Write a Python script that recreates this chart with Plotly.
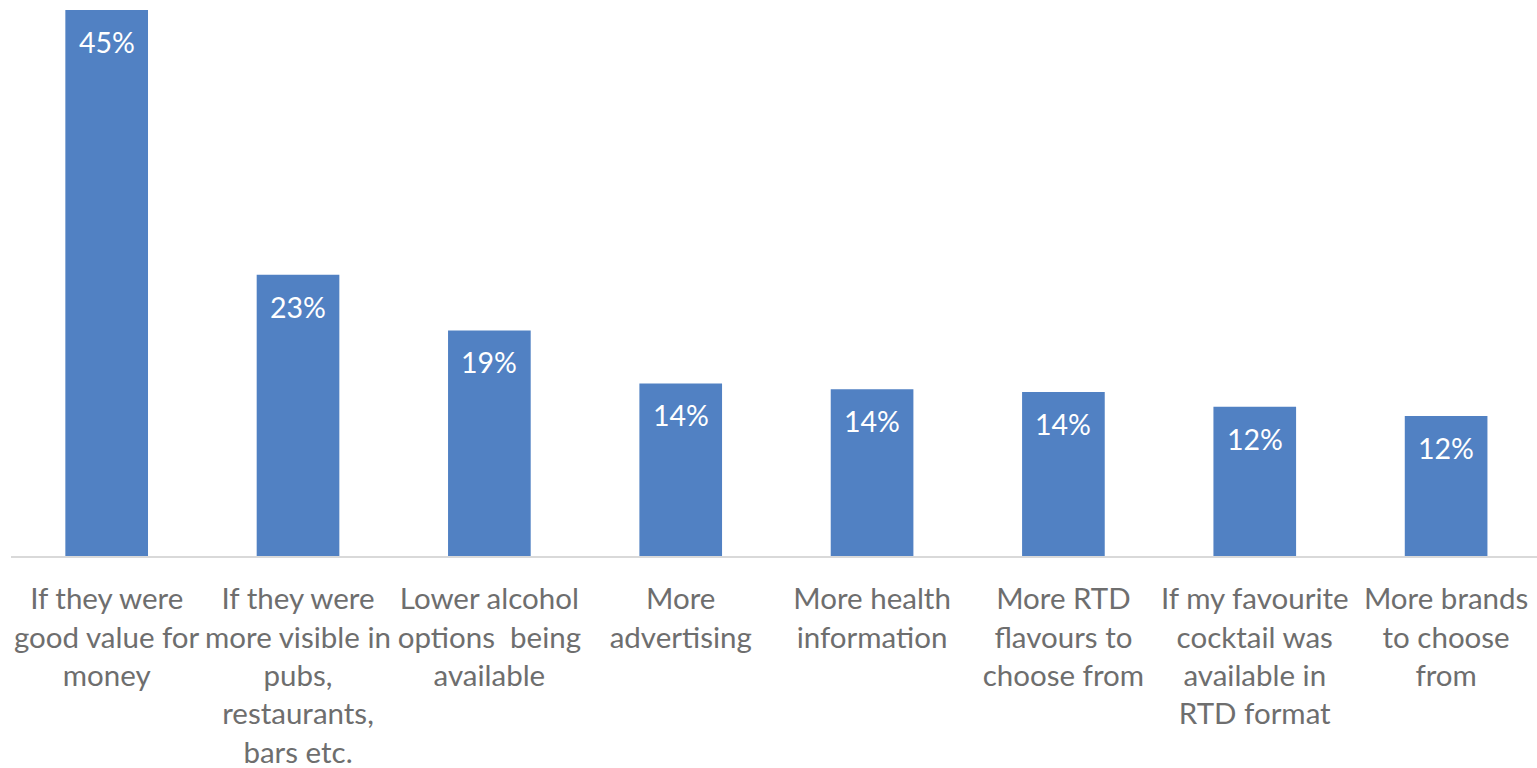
import plotly.graph_objects as go

# Survey results: what would make respondents buy more RTDs
categories = [
    "If they were<br>good value for<br>money",
    "If they were<br>more visible in<br>pubs,<br>restaurants,<br>bars etc.",
    "Lower alcohol<br>options \u00a0being<br>available",
    "More<br>advertising",
    "More health<br>information",
    "More RTD<br>flavours to<br>choose from",
    "If my favourite<br>cocktail was<br>available in<br>RTD format",
    "More brands<br>to choose<br>from",
]
shares = [0.450, 0.2317, 0.1859, 0.1422, 0.1375, 0.1352, 0.1229, 0.1154]

BAR_COLOR = "#5181C3"
TEXT_GRAY = "#6E6E6E"
FONT = "Lato"

x_pos = list(range(len(categories)))

fig = go.Figure(
    go.Bar(
        x=x_pos,
        y=shares,
        marker=dict(color=BAR_COLOR, line=dict(width=0)),
        width=0.432,
        hoverinfo="skip",
    )
)

# Percentage labels just inside the top of each bar
for xi, v in zip(x_pos, shares):
    fig.add_annotation(
        x=xi, y=v, xref="x", yref="y",
        text=f"{v * 100:.0f}%",
        showarrow=False,
        yanchor="top",
        yshift=-13,
        font=dict(family=FONT, size=28.5, color="white"),
    )

fig.update_layout(
    width=1537,
    height=768,
    margin=dict(l=11, r=0, t=0, b=212),
    paper_bgcolor="white",
    plot_bgcolor="white",
    showlegend=False,
    font=dict(family=FONT, color=TEXT_GRAY),
    xaxis=dict(
        range=[-0.5, 7.475],
        tickmode="array",
        tickvals=x_pos,
        ticktext=categories,
        tickfont=dict(family=FONT, size=29.5, color=TEXT_GRAY),
        ticks="",
        showgrid=False,
        zeroline=False,
        showline=True,
        linecolor="#D9D9D9",
        linewidth=1.5,
        ticklabelstandoff=16,
        fixedrange=True,
    ),
    yaxis=dict(
        range=[0, 0.4582],
        visible=False,
        showgrid=False,
        zeroline=False,
        fixedrange=True,
    ),
)

fig.write_html("out.html", config={"displayModeBar": False})
